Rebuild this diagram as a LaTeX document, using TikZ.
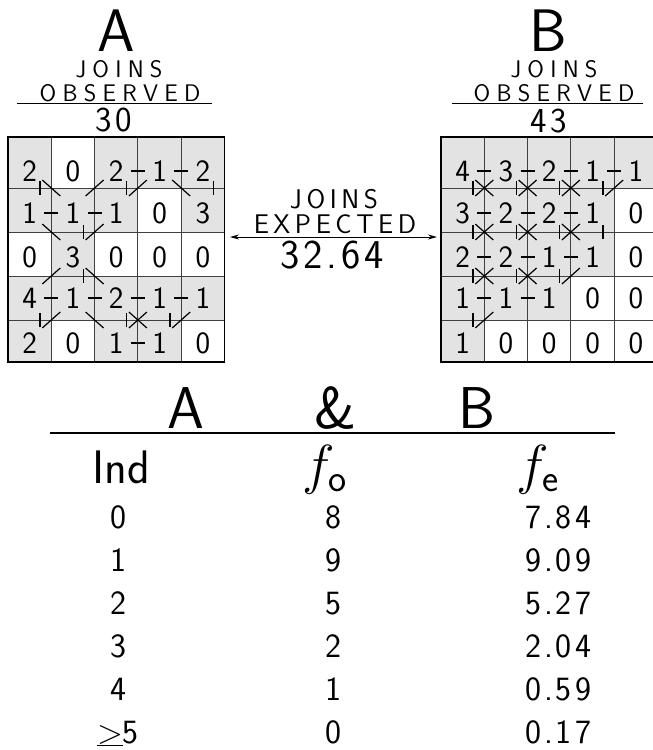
\RequirePackage{fix-cm}
\documentclass[tikz,border=0pt]{standalone}
\usepackage{fontspec}
\setsansfont{lmsans17-regular.otf}
\newfontfamily\capsfont[LetterSpace=26]{lmsans17-regular.otf}
\newfontfamily\midfont[LetterSpace=17]{lmsans17-regular.otf}
\newfontfamily\numfont[LetterSpace=9]{lmsans17-regular.otf}
\usetikzlibrary{arrows.meta,positioning}

\newcommand\fsz[1]{\fontsize{#1}{#1}\selectfont}
\def\cw{43.3}
\def\rowy{{137,188,232,276,320,362}}
\def\rowb{{181,223,267,308,353}}

% 5x5 map: x origin, name prefix, black cells, values,
% joins across, down, diagonal \ and diagonal /
\newcommand\joingrid[8]{%
  \def\xo{#1}%
  \foreach \r/\c in {#3}{
    \fill[cellshade] ({\xo+\cw*(\c-1)},{\rowy[\r-1]}) rectangle ({\xo+\cw*\c},{\rowy[\r]});
  }
  \foreach \k in {1,...,4}{
    \draw[gridrule] ({\xo+\cw*\k},137) -- ({\xo+\cw*\k},362);
    \draw[gridrule] (\xo,{\rowy[\k]}) -- ({\xo+5*\cw},{\rowy[\k]});
  }
  \draw[gridframe] (\xo,137) rectangle ({\xo+5*\cw},362);
  \foreach \vals [count=\r] in {#4}{
    \foreach \val [count=\c] in \vals{
      \node[celldig] (#2\r\c) at ({\xo+\cw*(\c-.5)},{\rowb[\r-1]}) {\val};
    }
  }
  \foreach \r/\c in {#5}{
    \draw[joinmark] ({\xo+\cw*\c-7},{\rowb[\r-1]-10}) -- ++(14,0);
  }
  \foreach \r/\c in {#6}{
    \draw[joinmark] ({\xo+\cw*(\c-1)+32},{\rowy[\r]-7}) -- ++(0,14);
  }
  \foreach \r/\c in {#7}{
    \draw[joinmark] ({\xo+\cw*\c-9},{\rowy[\r]-8}) -- ++(18,16);
  }
  \foreach \r/\c in {#8}{
    \draw[joinmark] ({\xo+\cw*\c+9},{\rowy[\r]-8}) -- ++(-18,16);
  }
}

\begin{document}
\begin{tikzpicture}[x=1pt,y=-1pt,
    cellshade/.style={fill=black!11},
    gridrule/.style={line width=.9pt,black!75},
    gridframe/.style={line width=1.6pt},
    joinmark/.style={line width=1.2pt},
    celldig/.style={font=\sffamily\fsz{31},anchor=base,inner sep=0pt},
    bigletter/.style={font=\sffamily\fsz{60},anchor=base,inner sep=0pt},
    capline/.style={font=\capsfont\fsz{24},anchor=base,inner sep=0pt},
    midline/.style={font=\midfont\fsz{27},anchor=base,inner sep=0pt},
    tally/.style={font=\numfont\fsz{35},anchor=base,inner sep=0pt},
    tabnum/.style={font=\numfont\fsz{34},anchor=base,inner sep=0pt},
    tabhead/.style={font=\sffamily\fsz{47},anchor=base,inner sep=0pt},
    freq/.style={font=\fsz{55},anchor=base,inner sep=0pt}]
  \useasboundingbox (0,0) rectangle (653,750);
  \clip (0,0) rectangle (653,750);

  % map A
  \node[bigletter] (titleA) at (116,51) {A};
  \node[capline] (joinsA) at (119,77) {JOINS};
  \node[capline] (obsA) at (120,101) {OBSERVED};
  \draw[line width=1.1pt] (17,103.5) -- (212,103.5);
  \node[tally] (countA) at (114,131) {30};
  \joingrid{8}{a}{1/1,1/3,1/4,1/5,2/1,2/2,2/3,2/5,3/2,4/1,4/2,4/3,4/4,4/5,5/1,5/3,5/4}
    {{2,0,2,1,2},{1,1,1,0,3},{0,3,0,0,0},{4,1,2,1,1},{2,0,1,1,0}}
    {1/3,1/4,2/1,2/2,4/1,4/2,4/3,4/4,5/3}
    {1/1,4/1,2/2,3/2,1/3,4/3,4/4,1/5}
    {1/1,1/4,2/1,3/2,4/2,4/3}
    {1/2,1/3,2/2,3/1,4/1,4/3,4/4}

  % map B
  \node[bigletter] (titleB) at (548,51) {B};
  \node[capline] (joinsB) at (554,77) {JOINS};
  \node[capline] (obsB) at (554,101) {OBSERVED};
  \draw[line width=1.1pt] (452,103.5) -- (643,103.5);
  \node[tally] (countB) at (549,132) {43};
  \joingrid{441}{b}{1/1,1/2,1/3,1/4,1/5,2/1,2/2,2/3,2/4,3/1,3/2,3/3,3/4,4/1,4/2,4/3,5/1}
    {{4,3,2,1,1},{3,2,2,1,0},{2,2,1,1,0},{1,1,1,0,0},{1,0,0,0,0}}
    {1/1,1/2,1/3,1/4,2/1,2/2,2/3,3/1,3/2,3/3,4/1,4/2}
    {1/1,2/1,3/1,4/1,1/2,2/2,3/2,1/3,2/3,3/3,1/4,2/4}
    {1/1,1/2,1/3,2/1,2/2,2/3,3/1,3/2}
    {1/1,1/2,1/3,1/4,2/1,2/2,2/3,3/1,3/2,3/3,4/1}

  % expected joins
  \node[midline] (joinsE) at (334,208) {JOINS};
  \node[midline] (expE) at (335,233) {EXPECTED};
  \coordinate (expL) at (230,237);
  \coordinate (expR) at (437,237);
  \draw[line width=1pt,{Stealth[length=9pt,width=5pt]}-{Stealth[length=9pt,width=5pt]}] (expL) -- (expR);
  \node[tally,font=\numfont\fsz{41}] (countE) at (332,268) {32.64};

  % table
  \node[bigletter,font=\sffamily\fsz{59}] (headA) at (186,428) {A};
  \node[bigletter,font=\sffamily\fsz{59}] (headAnd) at (336,428) {\&};
  \node[bigletter,font=\sffamily\fsz{59}] (headB) at (477,428) {B};
  \draw[line width=1.1pt] (50,433) -- (615,433);
  \node[tabhead] (colInd) at (121,483) {Ind};
  \node[freq] (colObs) at (325,483) {$f_{\mathsf{o}}$};
  \node[freq] (colExp) at (538,483) {$f_{\mathsf{e}}$};
  \foreach \ind/\obs/\fexp [count=\n from 0] in {0/8/7.84,1/9/9.09,2/5/5.27,3/2/2.04,4/1/0.59,{$\underline{>}$5}/0/0.17}{
    \node[tabnum] (ind\n) at (118,{528+43*\n}) {\ind};
    \node[tabnum] (obs\n) at (333,{528+43*\n}) {\obs};
    \node[tabnum] (exp\n) at (558,{528+43*\n}) {\fexp};
  }
\end{tikzpicture}
\end{document}
